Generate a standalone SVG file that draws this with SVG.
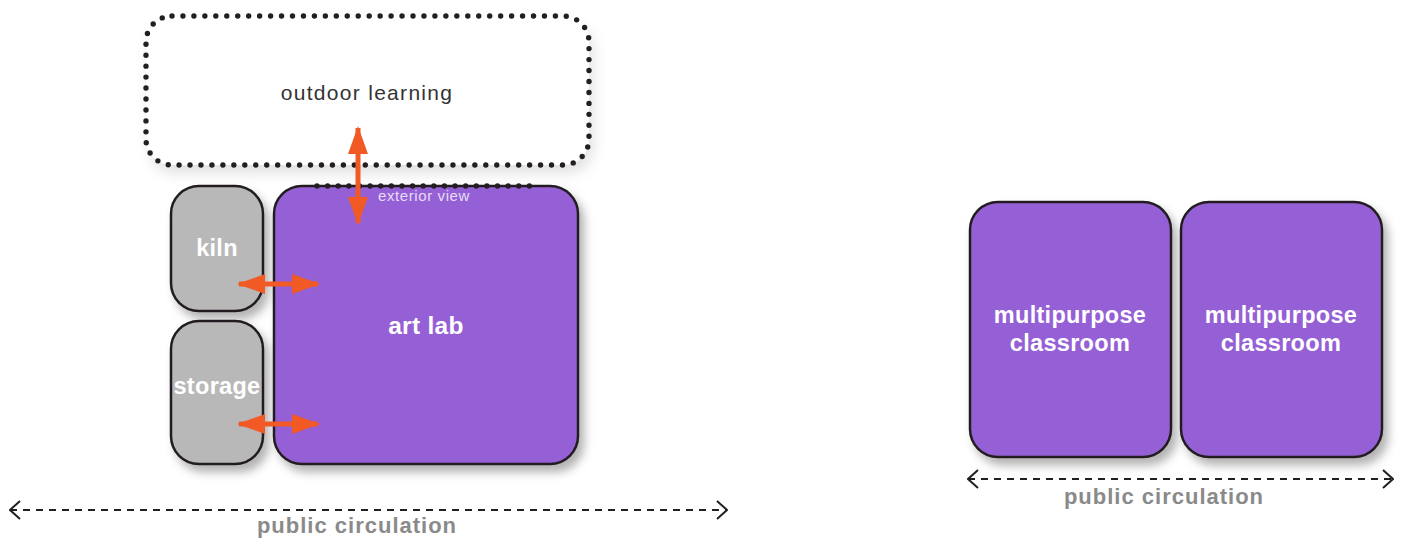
<svg xmlns="http://www.w3.org/2000/svg" width="1403" height="538" viewBox="0 0 1403 538">
<style>
.room{stroke:#231f20;stroke-width:2.5}
.purple{fill:#9560d5}
.grey{fill:#b8b8b8}
.lbl{font-family:"Liberation Sans",Arial,sans-serif;font-weight:bold;fill:#fff;font-size:23.5px;letter-spacing:0.3px;text-anchor:middle}
.circ{font-family:"Liberation Sans",Arial,sans-serif;font-weight:bold;fill:#8a8a8a;font-size:22px;letter-spacing:1px;text-anchor:middle}
.dash{stroke:#231f20;stroke-width:2;stroke-dasharray:7 6;fill:none}
.dots{stroke:#231f20;stroke-width:5.4;stroke-linecap:round;fill:none}
.orange{stroke:#f15a24;stroke-width:5;fill:none}
</style>
<defs>
<filter id="sh" x="-20%" y="-20%" width="150%" height="150%">
<feDropShadow dx="5" dy="7" stdDeviation="5" flood-color="#000" flood-opacity="0.3"/>
</filter>
<filter id="sh2" x="-20%" y="-20%" width="150%" height="150%">
<feDropShadow dx="4" dy="8" stdDeviation="7" flood-color="#000" flood-opacity="0.12"/>
</filter>
<marker id="oa" viewBox="0 0 28 20" refX="26" refY="10" markerWidth="28" markerHeight="20" markerUnits="userSpaceOnUse" orient="auto-start-reverse">
<path d="M0,0 L28,10 L0,20 Z" fill="#f15a24"/>
</marker>
<marker id="ca" viewBox="0 0 12 20" refX="11" refY="10" markerWidth="12" markerHeight="20" markerUnits="userSpaceOnUse" orient="auto-start-reverse">
<path d="M1,1 L11,10 L1,19" fill="none" stroke="#231f20" stroke-width="2"/>
</marker>
</defs>

<g id="outdoor-learning">
<rect x="146" y="16" width="443" height="149" rx="26" fill="#fff" filter="url(#sh2)"/>
<rect x="146" y="16" width="443" height="149" rx="26" class="dots" stroke-dasharray="0 10.955"/>
<text x="367" y="100" font-family="'Liberation Sans',Arial,sans-serif" font-size="21" letter-spacing="1.3" fill="#333" text-anchor="middle">outdoor learning</text>
</g>

<g id="kiln">
<rect x="171" y="186" width="92" height="125" rx="28" class="room grey" filter="url(#sh)"/>
<text x="217" y="256" class="lbl">kiln</text>
</g>

<g id="storage">
<rect x="171" y="321" width="92" height="143" rx="28" class="room grey" filter="url(#sh)"/>
<text x="217" y="394" class="lbl">storage</text>
</g>

<g id="art-lab">
<rect x="274" y="186" width="304" height="278" rx="28" class="room purple" filter="url(#sh)"/>
<text x="426" y="334" class="lbl" style="font-size:24.5px">art lab</text>
<line x1="317" y1="186" x2="540" y2="186" class="dots" stroke-dasharray="0 10.62"/>
<text x="424" y="201" font-family="'Liberation Sans',Arial,sans-serif" font-size="15" letter-spacing="0.6" fill="#e6dcf5" text-anchor="middle">exterior view</text>
</g>

<g id="classroom-1">
<rect x="970" y="202" width="201" height="255" rx="28" class="room purple" filter="url(#sh)"/>
<text x="1070" y="323" class="lbl">multipurpose</text>
<text x="1070" y="351" class="lbl">classroom</text>
</g>

<g id="classroom-2">
<rect x="1181" y="202" width="201" height="255" rx="28" class="room purple" filter="url(#sh)"/>
<text x="1281" y="323" class="lbl">multipurpose</text>
<text x="1281" y="351" class="lbl">classroom</text>
</g>

<g id="connectors">
<line x1="358" y1="128" x2="358" y2="223" class="orange" marker-start="url(#oa)" marker-end="url(#oa)"/>
<line x1="239" y1="284" x2="318" y2="284" class="orange" marker-start="url(#oa)" marker-end="url(#oa)"/>
<line x1="239" y1="424" x2="318" y2="424" class="orange" marker-start="url(#oa)" marker-end="url(#oa)"/>
<line x1="10" y1="510" x2="727" y2="510" class="dash" marker-start="url(#ca)" marker-end="url(#ca)"/>
<line x1="968" y1="479" x2="1393" y2="479" class="dash" marker-start="url(#ca)" marker-end="url(#ca)"/>
</g>

<g id="circulation-labels">
<text x="357" y="533" class="circ">public circulation</text>
<text x="1164" y="504" class="circ">public circulation</text>
</g>
</svg>
